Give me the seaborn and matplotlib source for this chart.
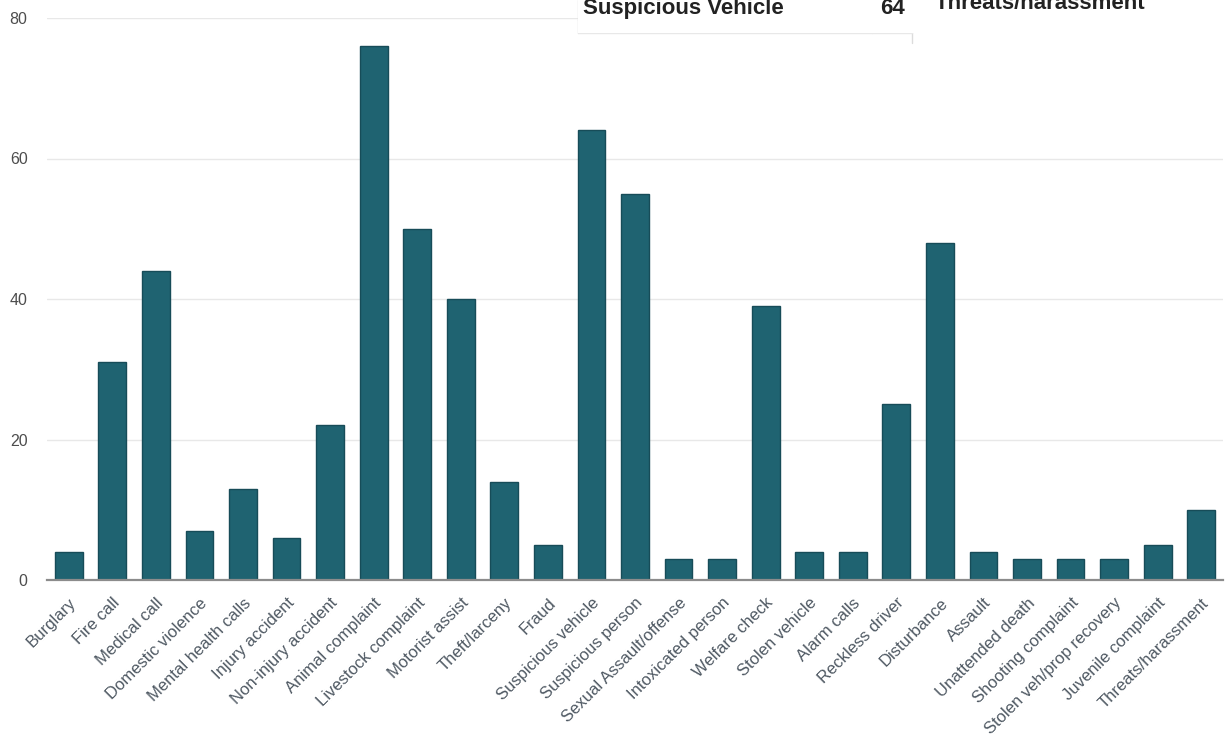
import matplotlib
matplotlib.use("Agg")
import matplotlib.pyplot as plt
from matplotlib.lines import Line2D
import seaborn as sns
import pandas as pd

# Call types and their counts
categories = [
    "Burglary", "Fire call", "Medical call", "Domestic violence",
    "Mental health calls", "Injury accident", "Non-injury accident",
    "Animal complaint", "Livestock complaint", "Motorist assist",
    "Theft/larceny", "Fraud", "Suspicious vehicle", "Suspicious person",
    "Sexual Assault/offense", "Intoxicated person", "Welfare check",
    "Stolen vehicle", "Alarm calls", "Reckless driver", "Disturbance",
    "Assault", "Unattended death", "Shooting complaint",
    "Stolen veh/prop recovery", "Juvenile complaint", "Threats/harassment",
]
counts = [4, 31, 44, 7, 13, 6, 22, 76, 50, 40, 14, 5, 64, 55, 3, 3, 39,
          4, 4, 25, 48, 4, 3, 3, 3, 5, 10]
y_ticks = [0, 20, 40, 60, 80]

# Hover box contents
hover_label = "Suspicious Vehicle"
hover_value = "64"
hover_next = "Threats/harassment"

sns.set_theme(style="white")
plt.rcParams["font.family"] = ["Liberation Sans", "DejaVu Sans"]

W, H = 1225, 748
fig = plt.figure(figsize=(W / 100, H / 100), dpi=100)
ax = fig.add_axes([47 / W, 1 - 580 / H, (1223 - 47) / W, (580 - 18) / H])

df = pd.DataFrame({"category": categories, "count": counts})
sns.barplot(data=df, x="category", y="count", ax=ax, color="#1f6371",
            saturation=1, width=0.64, edgecolor="#174c58", linewidth=1)

ax.set_ylim(0, 80)
ax.set_xlim(-0.5, len(categories) - 0.5)
ax.set_yticks(y_ticks)
ax.set_xlabel("")
ax.set_ylabel("")
ax.grid(axis="y", color="#e8e8e8", linewidth=1)
ax.set_axisbelow(True)
for side in ["top", "right", "left"]:
    ax.spines[side].set_visible(False)
ax.spines["bottom"].set_color("#8c8c8c")
ax.spines["bottom"].set_linewidth(1.6)

ax.tick_params(axis="y", length=0, pad=14, labelsize=11.5, labelcolor="#4d4d4d")
ax.tick_params(axis="x", length=0, pad=11, labelsize=12, labelcolor="#4e5862")
ax.set_xticks(range(len(categories)))
ax.set_xticklabels(categories, rotation=45, ha="right", rotation_mode="anchor")

# Hover table along the top edge
def fig_line(x0, y0, x1, y1, color="#dcdcdc", lw=1):
    fig.add_artist(Line2D([x0 / W, x1 / W], [1 - y0 / H, 1 - y1 / H],
                          transform=fig.transFigure, color=color, lw=lw))

fig.add_artist(plt.Rectangle((578 / W, 1 - 33 / H), (1225 - 578) / W, 40 / H,
                             transform=fig.transFigure, facecolor="white",
                             edgecolor="none", zorder=5))
fig_line(578, 0, 578, 33)
fig_line(872, 0, 872, 33, color="#e6e6e6")
fig_line(912, 0, 912, 43)
fig_line(578, 20, 912, 20, color="#d4d4d4")
fig_line(578, 33, 912, 33, color="#e8e8e8")
fig_line(912, 22, 1225, 22, color="#d4d4d4")

fig.text(583 / W, 1 - 14 / H, hover_label, ha="left", va="baseline",
         fontsize=16, fontweight="bold", color="#222222", zorder=6)
fig.text(905 / W, 1 - 14 / H, hover_value, ha="right", va="baseline",
         fontsize=16, fontweight="bold", color="#222222", zorder=6)
fig.text(935 / W, 1 - 9 / H, hover_next, ha="left", va="baseline",
         fontsize=16, fontweight="bold", color="#222222", zorder=6)

fig.savefig("out.png", dpi=100)
